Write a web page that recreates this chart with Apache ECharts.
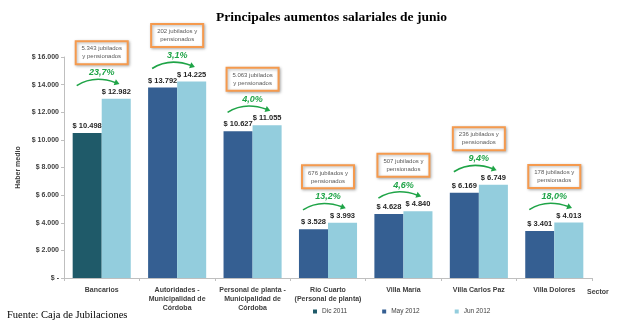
<!DOCTYPE html>
<html>
<head>
<meta charset="utf-8">
<script src="https://cdn.jsdelivr.net/npm/echarts@6/dist/echarts.min.js"></script>
<style>
html,body{margin:0;padding:0;background:#fff;}
#chart{width:624px;height:321px;}
</style>
</head>
<body>
<div id="chart"></div>
<script>
const categories = ['Bancarios', 'Autoridades -\nMunicipalidad de\nCórdoba', 'Personal de planta -\nMunicipalidad de\nCórdoba', 'Río Cuarto\n(Personal de planta)', 'Villa María', 'Villa Carlos Paz', 'Villa Dolores'];
const seriesNames = ['Dic 2011', 'May 2012', 'Jun 2012'];
const dic2011 = [10498, null, null, null, null, null, null];
const may2012 = [null, 13792, 10627, 3528, 4628, 6169, 3401];
const jun2012 = [12982, 14225, 11055, 3993, 4840, 6749, 4013];
const retirees = [5343, 202, 5063, 676, 507, 236, 178];
const increasePct = [23.7, 3.1, 4.0, 13.2, 4.6, 9.4, 18.0];
const yMin = 0, yMax = 16000, yStep = 2000;

function fmt(n) { return String(n).replace(/\B(?=(\d{3})+(?!\d))/g, '.'); }
const green = '#1fa447';
const font = '"Liberation Sans", Arial, sans-serif';

const annData = categories.map((c, i) => [i, Math.max(dic2011[i] || 0, may2012[i] || 0, jun2012[i] || 0)]);

const barLabel = {
  show: true, position: 'top', distance: 3,
  formatter: p => '$ ' + fmt(p.value),
  fontSize: 7.5, fontWeight: 'bold', color: '#262626', fontFamily: font
};

const chart = echarts.init(document.getElementById('chart'));
chart.setOption({
  animation: false,
  backgroundColor: '#fff',
  title: [
    { text: 'Principales aumentos salariales de junio', left: 211, top: 6,
      textStyle: { fontFamily: '"Liberation Serif", "DejaVu Serif", serif', fontSize: 13.5, fontWeight: 'bold', color: '#000' } },
    { text: 'Fuente: Caja de Jubilaciones', left: 2, top: 305,
      textStyle: { fontFamily: '"Liberation Serif", serif', fontSize: 10.5, fontWeight: 'normal', color: '#000' } }
  ],
  legend: {
    data: seriesNames, left: 308, top: 303, icon: 'rect', itemWidth: 4, itemHeight: 4, itemGap: 35,
    textStyle: { fontSize: 6.5, color: '#404040', fontFamily: font }
  },
  grid: { left: 64, right: 32, top: 57, bottom: 43, containLabel: false },
  xAxis: {
    type: 'category', data: categories,
    name: 'Sector', nameLocation: 'end', nameGap: -5,
    nameTextStyle: { fontSize: 7, color: '#404040', fontWeight: 'bold', fontFamily: font, verticalAlign: 'top', padding: [11, 0, 0, 0] },
    axisLine: { lineStyle: { color: '#bfbfbf' } },
    axisTick: { show: true, length: 3, lineStyle: { color: '#bfbfbf' } },
    axisLabel: { interval: 0, fontSize: 7, fontWeight: 'bold', color: '#404040', fontFamily: font, lineHeight: 9, margin: 8 }
  },
  yAxis: {
    type: 'value', min: yMin, max: yMax, interval: yStep,
    name: 'Haber medio', nameLocation: 'middle', nameGap: 42, nameRotate: 90, nameMoveOverlap: false,
    nameTextStyle: { fontSize: 7, color: '#404040', fontWeight: 'bold', fontFamily: font },
    splitLine: { show: false },
    axisLine: { show: true, lineStyle: { color: '#bfbfbf' } },
    axisTick: { show: true, length: 3, lineStyle: { color: '#bfbfbf' } },
    axisLabel: { fontSize: 7, fontWeight: 'bold', color: '#404040', fontFamily: font, margin: 5,
      formatter: v => v === 0 ? '$ -' : '$ ' + fmt(v) }
  },
  series: [
    { name: seriesNames[0], type: 'bar', stack: 'prev', data: dic2011, barGap: '0%', barCategoryGap: '23%',
      itemStyle: { color: '#1f5a69' }, label: barLabel },
    { name: seriesNames[1], type: 'bar', stack: 'prev', data: may2012, barGap: '0%', barCategoryGap: '23%',
      itemStyle: { color: '#355f92' }, label: barLabel },
    { name: seriesNames[2], type: 'bar', data: jun2012, barGap: '0%', barCategoryGap: '23%',
      itemStyle: { color: '#93cddd' }, label: barLabel },
    { type: 'custom', name: 'ann', data: annData, clip: false, z: 10, silent: true,
      encode: { x: 0, y: 1 },
      renderItem: function (params, api) {
        const idx = api.value(0);
        const p = api.coord([idx, api.value(1)]);
        const cx = p[0], top = p[1];
        const P = top - 26;
        const boxCy = top - 46;
        const s = fmt(retirees[idx]);
        const txt = s.length > 3 ? s + ' jubilados\ny pensionados' : s + ' jubilados y\npensionados';
        const pct = increasePct[idx].toFixed(1).replace('.', ',') + '%';
        const x0 = cx - 25, y0 = P + 13, cpx = cx - 8, cpy = P + 2, x1 = cx + 14, y1 = P + 10;
        let dx = x1 - cpx, dy = y1 - cpy; const L = Math.sqrt(dx * dx + dy * dy); dx /= L; dy /= L;
        const tip = [x1 + dx * 4, y1 + dy * 4];
        const b1 = [x1 - dy * 3.2 - dx * 1, y1 + dx * 3.2 - dy * 1];
        const b2 = [x1 + dy * 3.2 - dx * 1, y1 - dx * 3.2 - dy * 1];
        return {
          type: 'group', children: [
            { type: 'rect', shape: { x: cx - 26, y: boxCy - 11.5, width: 52, height: 23 },
              style: { fill: '#fff', stroke: '#f59a4e', lineWidth: 2, shadowBlur: 3, shadowColor: 'rgba(0,0,0,0.3)', shadowOffsetX: 1, shadowOffsetY: 1 } },
            { type: 'text', x: cx, y: boxCy,
              style: { text: txt, fill: '#595959', font: '6px ' + font, align: 'center', verticalAlign: 'middle', lineHeight: 8 } },
            { type: 'text', x: cx, y: P,
              style: { text: pct, fill: green, font: 'italic bold 9px ' + font, align: 'center', verticalAlign: 'middle' } },
            { type: 'bezierCurve', shape: { x1: x0, y1: y0, x2: x1, y2: y1, cpx1: cpx, cpy1: cpy },
              style: { stroke: green, lineWidth: 1.6, fill: null } },
            { type: 'polygon', shape: { points: [tip, b1, b2] }, style: { fill: green } }
          ]
        };
      }
    }
  ]
});
</script>
</body>
</html>
